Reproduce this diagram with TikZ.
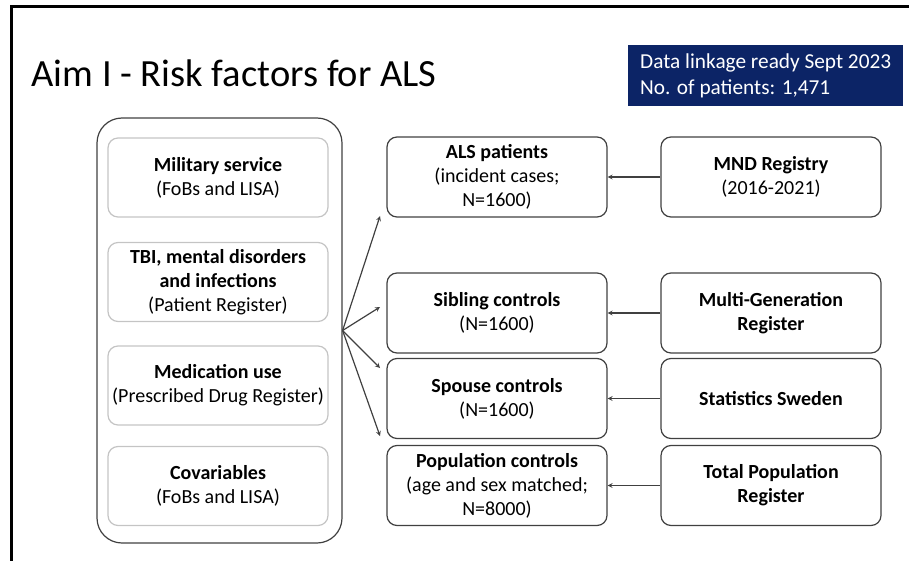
\documentclass[tikz,border=0pt]{standalone}
\usepackage{fontspec}
\setmainfont{Carlito}
\definecolor{navy}{RGB}{12,36,102}
\definecolor{edge}{RGB}{64,64,64}
\definecolor{pale}{RGB}{196,196,196}

\begin{document}
\begin{tikzpicture}[x=1pt,y=-1pt]
\tikzstyle{box}=[draw=edge,rounded corners=10pt,line width=1.2pt,minimum width=220pt,minimum height=80pt,align=center,inner sep=2pt,font=\fontsize{20}{24}\selectfont]
\tikzstyle{inbox}=[box,draw=pale]
\tikzstyle{link}=[->,>=stealth,line width=1.2pt,edge]

\useasboundingbox (0,0) rectangle (909,561);
\draw[line width=3pt] (11,561) -- (11,7) -- (909,7);

% Title and linkage note
\node[anchor=base west,font=\fontsize{38.5}{46}\selectfont] (title) at (28,87) {Aim I - Risk factors for ALS};
\node[fill=navy,text=white,align=left,anchor=north west,minimum width=275pt,minimum height=61pt,font=\fontsize{21.3}{26}\selectfont] (note) at (628,45) {Data linkage ready Sept 2023\\No. of patients: 1,471};

% Exposures: outer frame with the four data sources
\node[draw=edge,line width=1.2pt,rounded corners=25pt,minimum width=245pt,minimum height=425pt] (expo) at (219.5,330.5) {};
\foreach \n/\y/\txt in {mil/179.5/{\textbf{Military service}\\(FoBs and LISA)},
                        tbi/284/{\textbf{TBI, mental disorders}\\\textbf{and infections}\\(Patient Register)},
                        med/387.5/{\textbf{Medication use}\\(Prescribed Drug Register)},
                        cov/488/{\textbf{Covariables}\\(FoBs and LISA)}} {
  \node[inbox,minimum height=79pt] (\n) at (218,\y-2) {\txt};
}

% Study groups
\foreach \n/\y/\txt in {als/177/{\textbf{ALS patients}\\(incident cases;\\N=1600)},
                        sib/313/{\textbf{Sibling controls}\\(N=1600)},
                        spo/398.5/{\textbf{Spouse controls}\\(N=1600)},
                        pop/485.5/{\textbf{Population controls}\\(age and sex matched;\\N=8000)}} {
  \node[box] (\n) at (497,\y) {\txt};
}

% Registers
\foreach \n/\y/\txt in {mnd/177/{\textbf{MND Registry}\\(2016-2021)},
                        mgr/313/{\textbf{Multi-Generation}\\\textbf{Register}},
                        scb/398.5/{\textbf{Statistics Sweden}},
                        tpr/485.5/{\textbf{Total Population}\\\textbf{Register}}} {
  \node[box] (\n) at (771,\y) {\txt};
}

% Register -> group
\foreach \s/\t in {mnd/als,mgr/sib,scb/spo,tpr/pop}
  \draw[link] (\s) -- (\t);

% Exposures fan out to the groups
\foreach \i/\y in {1/216,2/307,3/368,4/436} {
  \coordinate (f\i) at (380,\y);
  \draw[link] (expo.east) -- (f\i);
}
\end{tikzpicture}
\end{document}
